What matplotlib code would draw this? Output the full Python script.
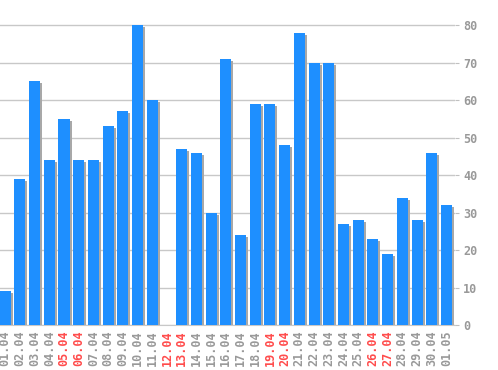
import matplotlib
matplotlib.use("Agg")
import matplotlib.pyplot as plt
import matplotlib.transforms as mtransforms

labels = ["01.04", "02.04", "03.04", "04.04", "05.04", "06.04", "07.04", "08.04",
          "09.04", "10.04", "11.04", "12.04", "13.04", "14.04", "15.04", "16.04",
          "17.04", "18.04", "19.04", "20.04", "21.04", "22.04", "23.04", "24.04",
          "25.04", "26.04", "27.04", "28.04", "29.04", "30.04", "01.05"]
values = [9, 39, 65, 44, 55, 44, 44, 53, 57, 80, 60, 0, 47, 46, 30, 71,
          24, 59, 59, 48, 78, 70, 70, 27, 28, 23, 19, 34, 28, 46, 32]
weekends = ["05.04", "06.04", "12.04", "13.04", "19.04", "20.04", "26.04", "27.04"]
yticks = [0, 10, 20, 30, 40, 50, 60, 70, 80]

fig = plt.figure(figsize=(4.98, 3.70), dpi=100)
ax = fig.add_axes([0, 45/370, 455/498, 325/370])
x = list(range(len(values)))

shadow = mtransforms.offset_copy(ax.transData, fig=fig, x=2, y=-2, units='dots')
ax.bar(x, values, width=0.75, color="#a8a8a8", transform=shadow, zorder=2)
ax.bar(x, values, width=0.75, color="#1e8fff", zorder=3)

ax.set_xlim(-0.35, 30.58)
ax.set_ylim(0, 86.7)
ax.yaxis.tick_right()
ax.set_yticks(yticks)
ax.set_yticklabels([str(v) for v in yticks], family="DejaVu Sans Mono",
                   fontsize=8.5, color="#999999", fontweight="bold")
ax.tick_params(axis='y', length=3, color="#c0c0c0", pad=3)
ax.grid(axis='y', color="#c8c8c8", linewidth=1, zorder=0)
ax.set_axisbelow(True)
for s in ["top", "left", "right"]:
    ax.spines[s].set_visible(False)
ax.spines["bottom"].set_color("#c8c8c8")

ax.set_xticks(x)
ax.set_xticklabels(labels, rotation=90, family="DejaVu Sans Mono", fontsize=8.5,
                   fontweight="bold")
for t in ax.get_xticklabels():
    t.set_color("#ff4c4c" if t.get_text() in weekends else "#999999")
ax.tick_params(axis='x', length=0, pad=4)

fig.savefig("out.png", dpi=100)
